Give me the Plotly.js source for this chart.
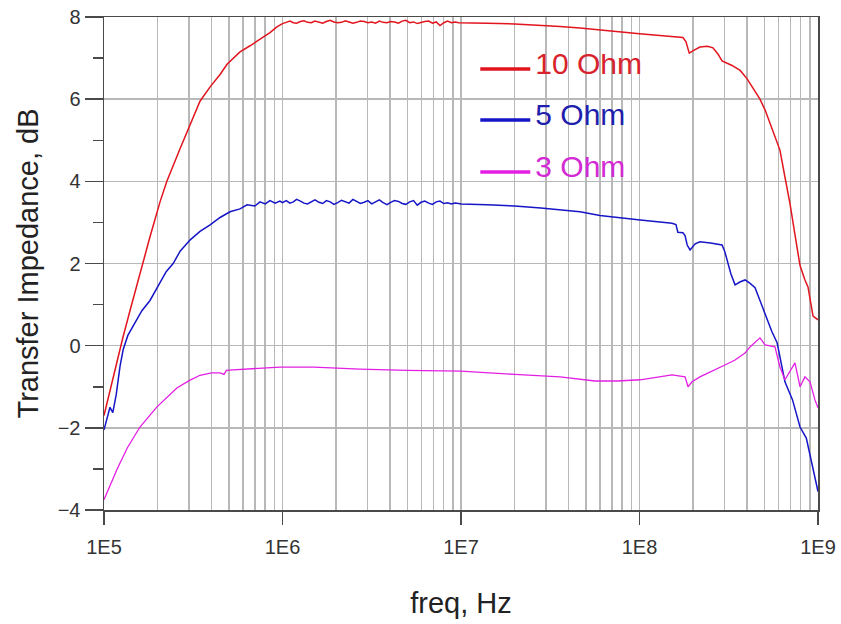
<!DOCTYPE html>
<html>
<head>
<meta charset="utf-8">
<script src="https://cdn.plot.ly/plotly-3.0.1.min.js"></script>
<style>
  html, body { margin: 0; padding: 0; background: #ffffff; }
  #chart { width: 841px; height: 624px; }
</style>
</head>
<body>
<div id="chart"></div>
<script>
// Transfer impedance (dB) versus frequency for three load resistances.

const seriesNames = ['10 Ohm', '5 Ohm', '3 Ohm'];
const seriesColors = ['#e2141e', '#1616c8', '#e41ee4'];
const legendTextColors = ['#d8232c', '#1f1fae', '#d42ad4'];

const xTickVals = [1e5, 1e6, 1e7, 1e8, 1e9];
const xTickText = ['1E5', '1E6', '1E7', '1E8', '1E9'];
const yTickVals = [-4, -2, 0, 2, 4, 6, 8];
const yMinorVals = [-3, -1, 1, 3, 5, 7];

// --- 10 Ohm ---
const freqRise10 = [1.0e5, 1.053e5, 1.12e5, 1.198e5, 1.278e5, 1.398e5, 1.59e5, 1.81e5, 2.06e5, 2.25e5,
  2.67e5, 3.03e5, 3.45e5, 3.93e5, 4.47e5, 4.89e5, 5.78e5, 6.58e5, 7.48e5, 8.51e5, 9.3e5];
const dbRise10 = [-1.7, -1.3, -0.76, -0.25, 0.21, 0.85, 1.77, 2.65, 3.5, 4.0,
  4.8, 5.35, 5.95, 6.3, 6.6, 6.85, 7.15, 7.3, 7.45, 7.62, 7.76];

// measured plateau (shared sweep points for 10 and 5 Ohm)
const freqPlateau = [1.0e6, 1.05e6, 1.1e6, 1.15e6, 1.2e6, 1.26e6, 1.32e6, 1.38e6, 1.45e6, 1.52e6,
  1.6e6, 1.68e6, 1.76e6, 1.85e6, 1.94e6, 2.04e6, 2.14e6, 2.25e6, 2.36e6, 2.48e6,
  2.6e6, 2.73e6, 2.87e6, 3.01e6, 3.16e6, 3.32e6, 3.49e6, 3.66e6, 3.85e6, 4.04e6,
  4.24e6, 4.46e6, 4.68e6, 4.91e6, 5.16e6, 5.42e6, 5.69e6, 5.97e6, 6.27e6, 6.59e6,
  6.92e6, 7.26e6, 7.63e6, 8.01e6, 8.41e6, 8.83e6, 9.27e6, 9.7e6];
const dbPlateau10 = [7.84, 7.87, 7.90, 7.86, 7.85, 7.89, 7.91, 7.87, 7.86, 7.90,
  7.88, 7.85, 7.89, 7.92, 7.88, 7.86, 7.87, 7.91, 7.88, 7.85,
  7.87, 7.90, 7.89, 7.86, 7.88, 7.85, 7.90, 7.87, 7.86, 7.89,
  7.88, 7.85, 7.90, 7.92, 7.86, 7.88, 7.84, 7.87, 7.89, 7.90,
  7.85, 7.88, 7.79, 7.86, 7.90, 7.86, 7.88, 7.86];
const dbPlateau5 = [3.48, 3.53, 3.47, 3.50, 3.56, 3.52, 3.47, 3.45, 3.51, 3.55,
  3.49, 3.46, 3.53, 3.50, 3.44, 3.48, 3.54, 3.51, 3.47, 3.56,
  3.52, 3.46, 3.49, 3.53, 3.45, 3.50, 3.55, 3.48, 3.43, 3.49,
  3.53, 3.51, 3.46, 3.44, 3.50, 3.53, 3.42, 3.49, 3.52, 3.47,
  3.44, 3.50, 3.52, 3.46, 3.48, 3.45, 3.47, 3.46];

const freqTail10 = [1.0e7, 1.4e7, 2.0e7, 2.8e7, 3.59e7, 4.64e7, 6.0e7, 8.0e7, 1.0e8, 1.3e8,
  1.6e8, 1.75e8, 1.82e8, 1.9e8, 2.0e8, 2.18e8, 2.4e8, 2.58e8, 2.75e8, 2.9e8,
  3.3e8, 3.66e8, 4.0e8, 4.27e8, 4.73e8, 5.05e8, 5.52e8, 6.12e8, 6.53e8, 6.97e8,
  7.43e8, 7.93e8, 8.45e8, 8.79e8, 9.14e8, 9.38e8, 1.0e9];
const dbTail10 = [7.86, 7.85, 7.83, 7.8, 7.77, 7.73, 7.68, 7.63, 7.59, 7.55,
  7.52, 7.5, 7.4, 7.12, 7.18, 7.27, 7.29, 7.25, 7.1, 6.93,
  6.82, 6.7, 6.5, 6.3, 6.0, 5.74, 5.3, 4.76, 4.1, 3.45,
  2.7, 1.95, 1.6, 1.43, 1.0, 0.72, 0.63];

// --- 5 Ohm ---
const freqRise5 = [1.0e5, 1.04e5, 1.08e5, 1.12e5, 1.17e5, 1.23e5, 1.28e5, 1.36e5, 1.49e5, 1.63e5,
  1.81e5, 2.06e5, 2.23e5, 2.44e5, 2.67e5, 3.03e5, 3.45e5, 3.93e5, 4.47e5, 5.08e5,
  5.78e5, 6.33e5, 7.0e5, 7.48e5, 8.0e5, 8.51e5, 9.1e5, 9.67e5];
const dbRise5 = [-2.05, -1.8, -1.5, -1.63, -1.2, -0.5, -0.1, 0.25, 0.55, 0.85,
  1.1, 1.53, 1.8, 2.0, 2.3, 2.57, 2.78, 2.94, 3.12, 3.26,
  3.33, 3.43, 3.4, 3.5, 3.45, 3.53, 3.47, 3.52];
const freqTail5 = [1.0e7, 1.4e7, 2.0e7, 2.8e7, 3.59e7, 4.64e7, 6.0e7, 8.0e7, 1.01e8, 1.3e8,
  1.52e8, 1.6e8, 1.64e8, 1.75e8, 1.8e8, 1.85e8, 1.92e8, 2.05e8, 2.18e8, 2.5e8,
  2.9e8, 3.0e8, 3.09e8, 3.25e8, 3.43e8, 3.65e8, 3.9e8, 4.15e8, 4.44e8, 4.73e8,
  5.05e8, 5.52e8, 5.9e8, 6.12e8, 6.53e8, 7.2e8, 7.93e8, 8.6e8, 9.25e8, 1.0e9];
const dbTail5 = [3.45, 3.43, 3.4, 3.35, 3.3, 3.26, 3.17, 3.1, 3.06, 3.01,
  2.98, 2.95, 2.76, 2.75, 2.68, 2.45, 2.33, 2.48, 2.53, 2.5,
  2.45, 2.3, 2.08, 1.75, 1.48, 1.55, 1.6, 1.52, 1.41, 1.11,
  0.75, 0.34, 0.07, -0.27, -0.88, -1.32, -1.98, -2.25, -2.85, -3.55];

// --- 3 Ohm ---
const freq3 = [1.0e5, 1.08e5, 1.18e5, 1.35e5, 1.59e5, 1.98e5, 2.56e5, 3.0e5, 3.45e5, 4.0e5,
  4.47e5, 4.7e5, 4.85e5, 5.28e5, 7.0e5, 9.67e5, 1.5e6, 2.72e6, 5.0e6, 1.0e7,
  2.0e7, 3.59e7, 5.63e7, 7.5e7, 1.01e8, 1.52e8, 1.8e8, 1.87e8, 1.97e8, 2.18e8,
  3.01e8, 3.43e8, 3.9e8, 4.16e8, 4.73e8, 5.05e8, 5.74e8, 6.12e8, 6.53e8, 7.43e8,
  7.93e8, 8.45e8, 9.02e8, 9.61e8, 1.0e9];
const db3 = [-3.75, -3.4, -3.02, -2.49, -1.98, -1.49, -1.03, -0.85, -0.72, -0.66,
  -0.66, -0.7, -0.6, -0.59, -0.55, -0.52, -0.52, -0.57, -0.6, -0.62,
  -0.7, -0.76, -0.86, -0.86, -0.83, -0.71, -0.76, -1.0, -0.88, -0.76,
  -0.47, -0.35, -0.18, -0.03, 0.19, 0.02, -0.03, -0.52, -0.83, -0.42,
  -1.0, -0.76, -0.88, -1.32, -1.51];

const freq10 = freqRise10.concat(freqPlateau, freqTail10);
const db10 = dbRise10.concat(dbPlateau10, dbTail10);
const freq5 = freqRise5.concat(freqPlateau, freqTail5);
const db5 = dbRise5.concat(dbPlateau5, dbTail5);

// vertical grid at 2..9 of every decade
const xMinorVals = [];
for (let d = 5; d < 9; d++) {
  for (let m = 2; m <= 9; m++) xMinorVals.push(m * Math.pow(10, d));
}

const FONT = 'Liberation Sans, Arial, sans-serif';
const GRID = '#b8b8b8';
const AXIS = '#4a4a4a';

const curves = [[freq10, db10], [freq5, db5], [freq3, db3]];
const legendKeys = ['legend', 'legend2', 'legend3'];

const traces = [];
curves.forEach(function (c, i) {
  traces.push({
    x: c[0], y: c[1], type: 'scatter', mode: 'lines',
    line: { color: seriesColors[i], width: i === 2 ? 1.3 : 1.5 },
    name: seriesNames[i], showlegend: false, hoverinfo: 'x+y'
  });
});
// legend keys: heavier stroke than the curves, key line sitting near the text baseline
seriesNames.forEach(function (n, i) {
  traces.push({
    x: [null], y: [null], type: 'scatter', mode: 'lines',
    line: { color: seriesColors[i], width: 3.5 },
    name: '<span style="font-size:30px">' + n + '</span>',
    legend: legendKeys[i], showlegend: true, hoverinfo: 'skip'
  });
});

function legendAt(yPaper, color) {
  return {
    x: 0.52, xanchor: 'left', y: yPaper, yanchor: 'middle',
    bgcolor: 'rgba(0,0,0,0)', borderwidth: 0, itemwidth: 50,
    font: { family: FONT, size: 13, color: color }
  };
}

const layout = {
  width: 841, height: 624,
  margin: { l: 104, r: 23, t: 17, b: 114 },
  paper_bgcolor: '#ffffff', plot_bgcolor: '#ffffff',
  font: { family: FONT, color: '#2a2a2a' },
  xaxis: {
    type: 'log', range: [5, 9],
    tickmode: 'array', tickvals: xTickVals, ticktext: xTickText,
    ticks: 'outside', ticklen: 13, tickwidth: 1.5, tickcolor: AXIS,
    ticklabelstandoff: 5,
    showline: true, linecolor: AXIS, linewidth: 1.5, mirror: true,
    showgrid: true, gridcolor: GRID, gridwidth: 1.5, zeroline: false,
    minor: { tickmode: 'array', tickvals: xMinorVals, ticks: '', showgrid: true, gridcolor: GRID, gridwidth: 1.5 },
    tickfont: { family: FONT, size: 20, color: '#333333' },
    title: { text: 'freq, Hz', font: { family: FONT, size: 29, color: '#222222' }, standoff: 36 },
    automargin: false
  },
  yaxis: {
    range: [-4, 8],
    tickmode: 'array', tickvals: yTickVals,
    ticks: 'outside', ticklen: 18, tickwidth: 1.5, tickcolor: AXIS,
    showline: true, linecolor: AXIS, linewidth: 1.5, mirror: true,
    showgrid: true, gridcolor: GRID, gridwidth: 1.5, zeroline: false,
    minor: { tickmode: 'array', tickvals: yMinorVals, ticks: 'outside', ticklen: 10, tickwidth: 1.5, tickcolor: AXIS, showgrid: false },
    tickfont: { family: FONT, size: 20, color: '#333333' },
    title: { text: 'Transfer Impedance, dB', font: { family: FONT, size: 29, color: '#222222' }, standoff: 10 },
    automargin: false
  },
  legend: legendAt(0.8945, legendTextColors[0]),
  legend2: legendAt(0.7911, legendTextColors[1]),
  legend3: legendAt(0.6856, legendTextColors[2])
};

Plotly.newPlot('chart', traces, layout, { displayModeBar: false, staticPlot: true });
</script>
</body>
</html>
